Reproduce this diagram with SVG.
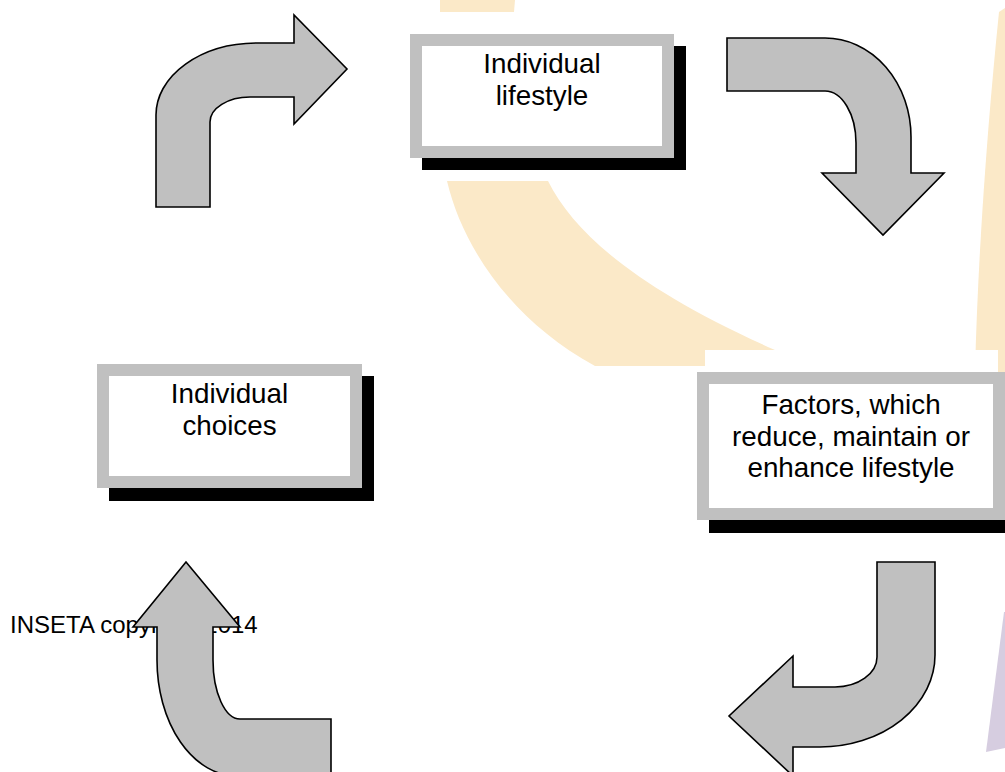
<svg xmlns="http://www.w3.org/2000/svg" width="1005" height="772" viewBox="0 0 1005 772">
<style>
.wm{fill:#fbe9c8;stroke:none}
.wmp{fill:#d6cde0;stroke:none}
.arrow{fill:#c0c0c0;stroke:#000;stroke-width:1.6;stroke-linejoin:miter}
.frame{fill:#fff;stroke:#c0c0c0;stroke-width:12}
.shadow{fill:#000}
.lbl{font-family:"Liberation Sans",Arial,sans-serif;font-size:27.8px;fill:#000;text-anchor:middle}
.foot{font-family:"Liberation Sans",Arial,sans-serif;font-size:24px;fill:#000}
</style>
<rect width="1005" height="772" fill="#fff"/>
<g id="watermark">
<path class="wm" d="M440,0 L515,0 L514,12 L440,12 Z"/>
<path class="wm" d="M447,181 L548,181 C575,235 640,290 775,350 L775,366 L595,366 C510,320 462,245 447,181 Z"/>
<path class="wm" d="M999,12 L1005,8 L1005,372 L975,372 C978,250 988,120 999,12 Z"/>
<path class="wmp" d="M1004,612 L1005,612 L1005,748 L986,752 Z"/>
<rect x="405" y="12" width="290" height="169" fill="#fff"/>
<rect x="705" y="350" width="293" height="30" fill="#fff"/>
</g>
<text class="foot" x="10" y="633">INSETA copyright 2014</text>
<g id="connectors">
<path class="arrow" d="M156,207 L156,115 A101,72 0 0 1 257,43 L294,43 L294,15 L347,69 L294,124 L294,97 L250,97 A40,25 0 0 0 210,122 L210,207 Z"/>
<path class="arrow" d="M727,38 L825,38 A86,99 0 0 1 911,137 L911,173 L944,173 L883,235 L822,173 L856,173 L856,143 A31,52 0 0 0 825,91 L727,91 Z"/>
<path class="arrow" d="M877,562 L935,562 L935,655 A115,92 0 0 1 820,747 L793,747 L793,776 L729,716 L793,656 L793,687 L835,687 A42,30 0 0 0 877,657 Z"/>
<path class="arrow" d="M157,627 L133,627 L186,562 L240,627 L213,627 L213,660 A27,59 0 0 0 240,719 L331,719 L331,776 L237,776 A80,116 0 0 1 157,660 Z"/>
</g>
<g id="node-lifestyle">
<rect class="shadow" x="422" y="46" width="264" height="124"/>
<rect class="frame" x="416" y="40" width="252" height="112"/>
<text class="lbl" x="542" y="73">Individual</text>
<text class="lbl" x="542" y="105">lifestyle</text>
</g>
<g id="node-factors">
<rect class="shadow" x="709" y="384" width="300" height="149"/>
<rect class="frame" x="703" y="378" width="296" height="136"/>
<text class="lbl" x="851" y="414">Factors, which</text>
<text class="lbl" x="851" y="446">reduce, maintain or</text>
<text class="lbl" x="851" y="477">enhance lifestyle</text>
</g>
<g id="node-choices">
<rect class="shadow" x="109" y="376" width="265" height="125"/>
<rect class="frame" x="103" y="370" width="253" height="112"/>
<text class="lbl" x="229.5" y="403">Individual</text>
<text class="lbl" x="229.5" y="435">choices</text>
</g>
</svg>
